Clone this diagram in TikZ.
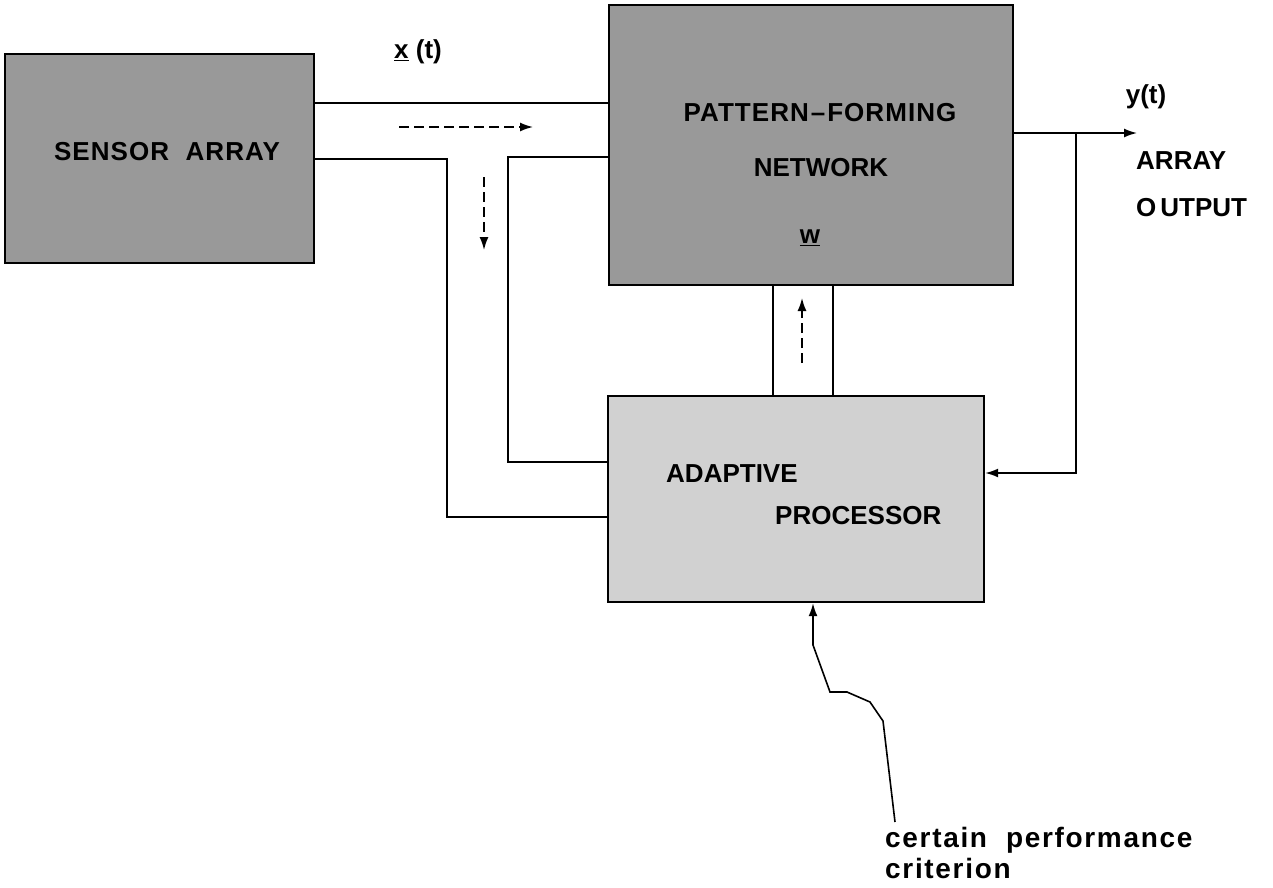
\documentclass[tikz,border=0pt]{standalone}
\usepackage{fontspec}
\setmainfont{Liberation Sans}
\usetikzlibrary{arrows.meta}
\tikzset{>={Latex[length=13pt,width=9pt]}}
\tikzset{
  block/.style={draw,line width=2.4pt,inner sep=0pt},
  dense/.style={fill=black!40},
  sparse/.style={fill=black!18},
  lbl/.style={font=\bfseries\fontsize{26}{30}\selectfont,inner sep=0pt},
  wide/.style={font=\bfseries\fontsize{28}{32}\selectfont\addfontfeatures{LetterSpace=6}},
  bus/.style={line width=1.6pt},
  flow/.style={->,line width=1.6pt,dash pattern=on 10pt off 5pt},
}

\begin{document}
\begin{tikzpicture}[x=1pt,y=-1pt]
  \useasboundingbox (0,0) rectangle (1273,887);
  % blocks
  \node[block,dense,minimum width=309pt,minimum height=209pt] (sensor) at (159.5,158.5) {};
  \node[block,dense,minimum width=404pt,minimum height=280pt] (net) at (811,145) {};
  \node[block,sparse,minimum width=376pt,minimum height=206pt] (proc) at (796,499) {};
  % block texts
  \node[lbl] (sensortxt) at (167,152) {\addfontfeatures{LetterSpace=4}SENSOR\ \ ARRAY};
  \node[lbl] (nettxt) at (820,113) {\addfontfeatures{LetterSpace=4}PATTERN\kern2pt--\kern2pt FORMING};
  \node[lbl] (nettxtb) at (821,168) {NETWORK};
  \node[lbl] (weights) at (810,238) {\underline{w}};
  \node[lbl,anchor=base west] (proctxt) at (666,482) {ADAPTIVE};
  \node[lbl,anchor=base west] (proctxtb) at (775,524) {PROCESSOR};
  % input bus x(t)
  \draw[bus] (sensor.east |- 0,103) -- (net.west |- 0,103);
  \draw[bus] (sensor.east |- 0,159) -- (447,159) -- (447,517) -- (proc.west |- 0,517);
  \draw[bus] (net.west |- 0,157) -- (508,157) -- (508,462) -- (proc.west |- 0,462);
  % weight bus
  \draw[bus] (net.south -| 773,0) -- (proc.north -| 773,0);
  \draw[bus] (net.south -| 833,0) -- (proc.north -| 833,0);
  % output and feedback
  \coordinate (tap) at (1076,133);
  \draw[bus,->] (net.east |- 0,133) -- (1137,133) coordinate (out);
  \draw[bus,->] (tap) |- (proc.east |- 0,473);
  % criterion input
  \coordinate (crit) at (895,822);
  \draw[bus,->] (crit) -- (883,721) -- (870,702) -- (847,692) -- (830,692)
    -- (813,645) -- (proc.south -| 813,0);
  % flow directions
  \draw[flow] (399,127) -- (533,127);
  \draw[flow] (484,177) -- (484,250);
  \draw[flow] (802,363) -- (802,298);
  % labels
  \node[lbl] (xlbl) at (418,52) {\underline{x}\ (t)};
  \node[lbl] (ylbl) at (1146,97) {y(t)};
  \node[lbl,anchor=base west] (outlbl) at (1136,169) {ARRAY};
  \node[lbl,anchor=base west] (outlblb) at (1136,216) {O\kern4pt UTPUT};
  \node[lbl,wide,anchor=base west] (critlbl) at (885,847) {certain\ \ performance};
  \node[lbl,wide,anchor=base west] (critlblb) at (885,878) {criterion};
\end{tikzpicture}
\end{document}
